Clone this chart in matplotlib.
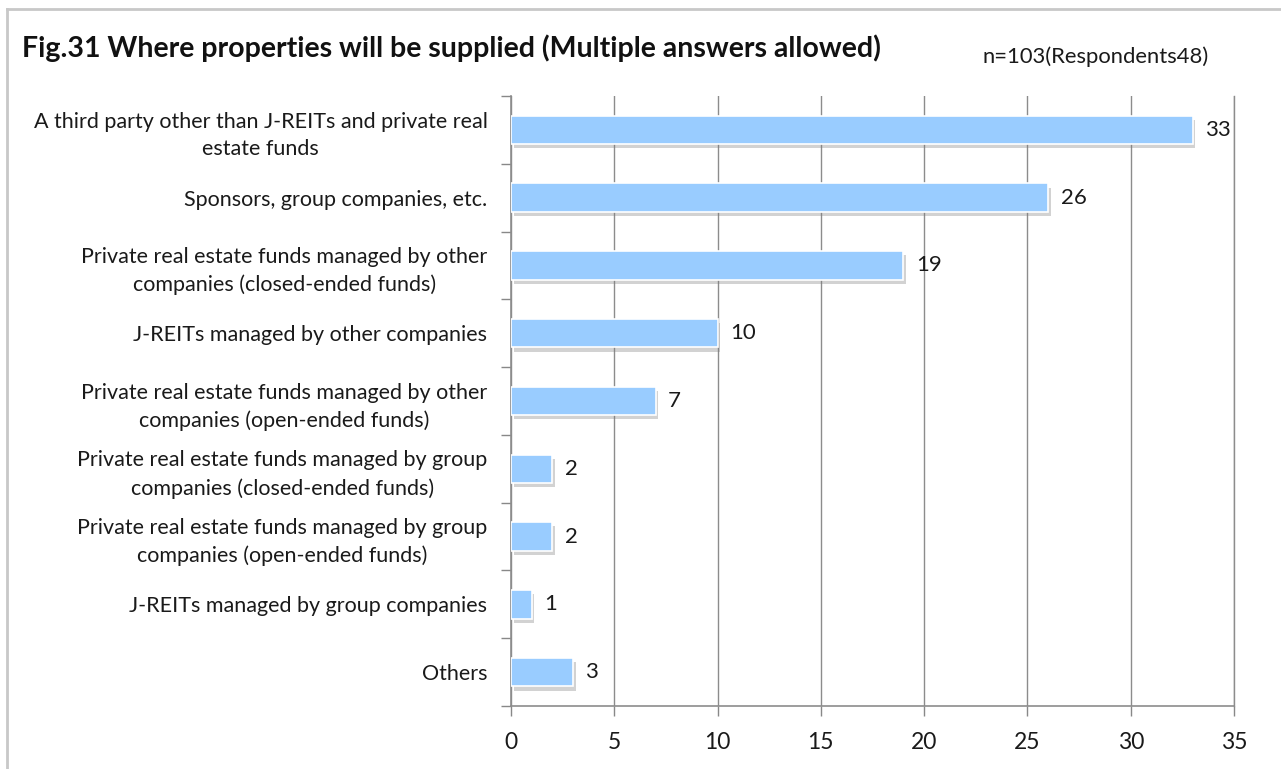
import numpy as np
import matplotlib.pyplot as plt
import matplotlib.patheffects as pe
from matplotlib.lines import Line2D

plt.rcParams['font.family'] = ['Lato', 'DejaVu Sans']

# survey answers, top to bottom
categories = [
    'A third party other than J-REITs and private real\nestate funds',
    'Sponsors, group companies, etc.',
    'Private real estate funds managed by other\ncompanies (closed-ended funds)',
    'J-REITs managed by other companies',
    'Private real estate funds managed by other\ncompanies (open-ended funds)',
    'Private real estate funds managed by group\ncompanies (closed-ended funds)',
    'Private real estate funds managed by group\ncompanies (open-ended funds)',
    'J-REITs managed by group companies',
    'Others',
]
counts = [33, 26, 19, 10, 7, 2, 2, 1, 3]
xticks = [0, 5, 10, 15, 20, 25, 30, 35]

W, H = 1281, 769
fig = plt.figure(figsize=(W / 100, H / 100), dpi=100)
ax = fig.add_axes([511 / W, 1 - 706 / H, (1234 - 511) / W, (706 - 96) / H])

ypos = np.arange(len(categories))
bars = ax.barh(ypos, counts, height=0.42, color='#99ccff', edgecolor='white',
               linewidth=1.2, zorder=3)
for b in bars:
    b.set_path_effects([pe.SimplePatchShadow(offset=(2, -3), shadow_rgbFace='#808080', alpha=0.35),
                        pe.Normal()])

for y, v in zip(ypos, counts):
    ax.annotate(str(v), (v, y), xytext=(9, 0), textcoords='offset points',
                va='center', ha='left', fontsize=16, color='#1a1a1a')

ax.set_xlim(0, 35)
ax.set_ylim(len(categories) - 0.5, -0.5)
ax.set_xticks(xticks)
ax.tick_params(axis='x', length=7, width=1, color='#888888', labelsize=16.5,
               labelcolor='#1a1a1a', pad=12)
ax.grid(axis='x', color='#8c8c8c', linewidth=1, zorder=0)

ax.set_yticks(ypos)
ax.set_yticklabels(categories, multialignment='center', linespacing=1.45)
ax.tick_params(axis='y', which='major', length=0, pad=17, labelsize=15.5, labelcolor='#1a1a1a')
ax.set_yticks(np.arange(len(categories) + 1) - 0.5, minor=True)
ax.tick_params(axis='y', which='minor', length=7, width=1, color='#888888')

ax.spines['top'].set_visible(False)
ax.spines['right'].set_color('#8c8c8c')
ax.spines['right'].set_linewidth(1)
for s in ['left', 'bottom']:
    ax.spines[s].set_color('#8c8c8c')
    ax.spines[s].set_linewidth(1.2)

fig.text(22 / W, 1 - 57 / H, 'Fig.31 Where properties will be supplied (Multiple answers allowed)',
         fontsize=20.5, fontweight='bold', ha='left', va='baseline', color='#111111')
fig.text(983 / W, 1 - 63 / H, 'n=103(Respondents48)', fontsize=15.8, ha='left',
         va='baseline', color='#1a1a1a')

# outer frame of the chart area
fig.add_artist(Line2D([7 / W, 1], [1 - 9 / H, 1 - 9 / H], color='#c8c8c8', linewidth=2))
fig.add_artist(Line2D([7 / W, 7 / W], [0, 1 - 9 / H], color='#c8c8c8', linewidth=2))

fig.savefig('out.png', dpi=100)
